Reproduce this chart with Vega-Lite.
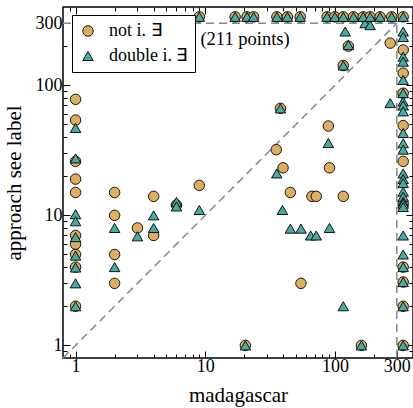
{
  "$schema": "https://vega.github.io/schema/vega-lite/v6.json",
  "width": 350,
  "height": 351,
  "autosize": "none",
  "padding": {"left": 63, "top": 7, "right": 0, "bottom": 50},
  "background": "white",
  "config": {
    "font": "Liberation Serif",
    "view": {"stroke": "black", "strokeWidth": 1.5},
    "axis": {
      "grid": false,
      "domain": false,
      "tickColor": "black",
      "tickWidth": 1,
      "labelColor": "black",
      "titleColor": "black",
      "labelFont": "Liberation Serif",
      "titleFont": "Liberation Serif",
      "labelFontSize": 18,
      "titleFontSize": 21,
      "titleFontWeight": "normal",
      "labelOverlap": false,
      "labelFlush": false
    }
  },
  "datasets": {
    "lines": [
      {"x": 0.8, "y": 0.8, "x2": 300, "y2": 300},
      {"x": 0.8, "y": 300, "x2": 300, "y2": 300},
      {"x": 300, "y": 0.8, "x2": 300, "y2": 300}
    ],
    "points": [
      {"x": 1, "y": 78, "s": "not i. ∃"},
      {"x": 1, "y": 54, "s": "not i. ∃"},
      {"x": 1, "y": 26, "s": "not i. ∃"},
      {"x": 1, "y": 19, "s": "not i. ∃"},
      {"x": 1, "y": 15, "s": "not i. ∃"},
      {"x": 1, "y": 7, "s": "not i. ∃"},
      {"x": 1, "y": 6, "s": "not i. ∃"},
      {"x": 1, "y": 5, "s": "not i. ∃"},
      {"x": 1, "y": 4, "s": "not i. ∃"},
      {"x": 1, "y": 2, "s": "not i. ∃"},
      {"x": 2, "y": 15, "s": "not i. ∃"},
      {"x": 2, "y": 10, "s": "not i. ∃"},
      {"x": 2, "y": 5, "s": "not i. ∃"},
      {"x": 2, "y": 3, "s": "not i. ∃"},
      {"x": 3, "y": 8, "s": "not i. ∃"},
      {"x": 4, "y": 14, "s": "not i. ∃"},
      {"x": 4, "y": 7, "s": "not i. ∃"},
      {"x": 6, "y": 12, "s": "not i. ∃"},
      {"x": 9, "y": 17, "s": "not i. ∃"},
      {"x": 20.4, "y": 1, "s": "not i. ∃"},
      {"x": 35.3, "y": 32, "s": "not i. ∃"},
      {"x": 39.8, "y": 23.2, "s": "not i. ∃"},
      {"x": 38, "y": 66.5, "s": "not i. ∃"},
      {"x": 90.8, "y": 23.2, "s": "not i. ∃"},
      {"x": 89, "y": 48.6, "s": "not i. ∃"},
      {"x": 45.3, "y": 15, "s": "not i. ∃"},
      {"x": 66.5, "y": 14, "s": "not i. ∃"},
      {"x": 71.8, "y": 14, "s": "not i. ∃"},
      {"x": 116, "y": 14, "s": "not i. ∃"},
      {"x": 54.7, "y": 3, "s": "not i. ∃"},
      {"x": 160, "y": 1, "s": "not i. ∃"},
      {"x": 127, "y": 200, "s": "not i. ∃"},
      {"x": 116, "y": 142, "s": "not i. ∃"},
      {"x": 267, "y": 211, "s": "not i. ∃"},
      {"x": 336, "y": 187, "s": "not i. ∃"},
      {"x": 336, "y": 124, "s": "not i. ∃"},
      {"x": 336, "y": 87, "s": "not i. ∃"},
      {"x": 336, "y": 49, "s": "not i. ∃"},
      {"x": 336, "y": 26, "s": "not i. ∃"},
      {"x": 336, "y": 12.3, "s": "not i. ∃"},
      {"x": 336, "y": 4, "s": "not i. ∃"},
      {"x": 336, "y": 3.07, "s": "not i. ∃"},
      {"x": 336, "y": 2, "s": "not i. ∃"},
      {"x": 336, "y": 1, "s": "not i. ∃"},
      {"x": 9, "y": 336, "s": "not i. ∃"},
      {"x": 17, "y": 336, "s": "not i. ∃"},
      {"x": 21, "y": 336, "s": "not i. ∃"},
      {"x": 23.6, "y": 336, "s": "not i. ∃"},
      {"x": 35.7, "y": 336, "s": "not i. ∃"},
      {"x": 43, "y": 336, "s": "not i. ∃"},
      {"x": 54, "y": 336, "s": "not i. ∃"},
      {"x": 87, "y": 336, "s": "not i. ∃"},
      {"x": 100, "y": 336, "s": "not i. ∃"},
      {"x": 116, "y": 336, "s": "not i. ∃"},
      {"x": 139, "y": 336, "s": "not i. ∃"},
      {"x": 165, "y": 336, "s": "not i. ∃"},
      {"x": 187, "y": 336, "s": "not i. ∃"},
      {"x": 223, "y": 336, "s": "not i. ∃"},
      {"x": 274, "y": 336, "s": "not i. ∃"},
      {"x": 336, "y": 336, "s": "not i. ∃"},
      {"x": 1, "y": 47, "s": "double i. ∃"},
      {"x": 1, "y": 27.4, "s": "double i. ∃"},
      {"x": 1, "y": 10.2, "s": "double i. ∃"},
      {"x": 1, "y": 9, "s": "double i. ∃"},
      {"x": 1, "y": 6.8, "s": "double i. ∃"},
      {"x": 1, "y": 4.9, "s": "double i. ∃"},
      {"x": 1, "y": 3.97, "s": "double i. ∃"},
      {"x": 1, "y": 3, "s": "double i. ∃"},
      {"x": 1, "y": 2, "s": "double i. ∃"},
      {"x": 2, "y": 8, "s": "double i. ∃"},
      {"x": 2, "y": 4, "s": "double i. ∃"},
      {"x": 3, "y": 6.9, "s": "double i. ∃"},
      {"x": 4, "y": 10, "s": "double i. ∃"},
      {"x": 4, "y": 8, "s": "double i. ∃"},
      {"x": 6, "y": 12.7, "s": "double i. ∃"},
      {"x": 6, "y": 11.7, "s": "double i. ∃"},
      {"x": 9, "y": 11, "s": "double i. ∃"},
      {"x": 20.4, "y": 1, "s": "double i. ∃"},
      {"x": 35.6, "y": 21, "s": "double i. ∃"},
      {"x": 38, "y": 66.5, "s": "double i. ∃"},
      {"x": 89, "y": 36, "s": "double i. ∃"},
      {"x": 39.4, "y": 11, "s": "double i. ∃"},
      {"x": 45.3, "y": 7.9, "s": "double i. ∃"},
      {"x": 54.7, "y": 7.9, "s": "double i. ∃"},
      {"x": 65, "y": 7, "s": "double i. ∃"},
      {"x": 71.8, "y": 7, "s": "double i. ∃"},
      {"x": 90.8, "y": 8, "s": "double i. ∃"},
      {"x": 116, "y": 2, "s": "double i. ∃"},
      {"x": 160, "y": 1, "s": "double i. ∃"},
      {"x": 120, "y": 259, "s": "double i. ∃"},
      {"x": 127, "y": 204, "s": "double i. ∃"},
      {"x": 116, "y": 142, "s": "double i. ∃"},
      {"x": 171, "y": 300, "s": "double i. ∃"},
      {"x": 187, "y": 290, "s": "double i. ∃"},
      {"x": 267, "y": 73, "s": "double i. ∃"},
      {"x": 336, "y": 259, "s": "double i. ∃"},
      {"x": 336, "y": 235, "s": "double i. ∃"},
      {"x": 336, "y": 166, "s": "double i. ∃"},
      {"x": 336, "y": 152, "s": "double i. ∃"},
      {"x": 336, "y": 110, "s": "double i. ∃"},
      {"x": 336, "y": 87, "s": "double i. ∃"},
      {"x": 336, "y": 75, "s": "double i. ∃"},
      {"x": 336, "y": 70, "s": "double i. ∃"},
      {"x": 336, "y": 63, "s": "double i. ∃"},
      {"x": 336, "y": 43, "s": "double i. ∃"},
      {"x": 336, "y": 35.8, "s": "double i. ∃"},
      {"x": 336, "y": 32, "s": "double i. ∃"},
      {"x": 336, "y": 21, "s": "double i. ∃"},
      {"x": 336, "y": 19, "s": "double i. ∃"},
      {"x": 336, "y": 17.7, "s": "double i. ∃"},
      {"x": 336, "y": 15.2, "s": "double i. ∃"},
      {"x": 336, "y": 13.9, "s": "double i. ∃"},
      {"x": 336, "y": 12.7, "s": "double i. ∃"},
      {"x": 336, "y": 12.3, "s": "double i. ∃"},
      {"x": 336, "y": 11.6, "s": "double i. ∃"},
      {"x": 336, "y": 7, "s": "double i. ∃"},
      {"x": 336, "y": 5, "s": "double i. ∃"},
      {"x": 336, "y": 4, "s": "double i. ∃"},
      {"x": 336, "y": 3.07, "s": "double i. ∃"},
      {"x": 336, "y": 2, "s": "double i. ∃"},
      {"x": 336, "y": 1, "s": "double i. ∃"},
      {"x": 9, "y": 336, "s": "double i. ∃"},
      {"x": 17, "y": 336, "s": "double i. ∃"},
      {"x": 21, "y": 336, "s": "double i. ∃"},
      {"x": 23.6, "y": 336, "s": "double i. ∃"},
      {"x": 35.7, "y": 336, "s": "double i. ∃"},
      {"x": 43, "y": 336, "s": "double i. ∃"},
      {"x": 54, "y": 336, "s": "double i. ∃"},
      {"x": 87, "y": 336, "s": "double i. ∃"},
      {"x": 100, "y": 336, "s": "double i. ∃"},
      {"x": 116, "y": 336, "s": "double i. ∃"},
      {"x": 139, "y": 336, "s": "double i. ∃"},
      {"x": 165, "y": 336, "s": "double i. ∃"},
      {"x": 187, "y": 336, "s": "double i. ∃"},
      {"x": 223, "y": 336, "s": "double i. ∃"},
      {"x": 274, "y": 336, "s": "double i. ∃"},
      {"x": 336, "y": 336, "s": "double i. ∃"}
    ],
    "note": [{"x": 9.18, "y": 227, "t": "(211 points)"}]
  },
  "layer": [
    {
      "data": {"name": "lines"},
      "mark": {"type": "rule", "strokeDash": [8, 5], "color": "#888888", "strokeWidth": 1.5},
      "encoding": {
        "x": {
          "field": "x", "type": "quantitative",
          "scale": {"type": "log", "domain": [0.8, 400], "nice": false},
          "axis": {
            "orient": "top", "title": null, "labels": false,
            "values": [0.9, 1, 2, 3, 4, 5, 6, 7, 8, 9, 10, 20, 30, 40, 50, 60, 70, 80, 90, 100, 200, 300],
            "tickSize": {"condition": {"test": "datum.value == 1 || datum.value == 10 || datum.value == 100 || datum.value == 300", "value": -7}, "value": -4}
          }
        },
        "y": {
          "field": "y", "type": "quantitative",
          "scale": {"type": "log", "domain": [0.8, 400], "nice": false},
          "axis": {
            "orient": "right", "title": null, "labels": false,
            "values": [0.9, 1, 2, 3, 4, 5, 6, 7, 8, 9, 10, 20, 30, 40, 50, 60, 70, 80, 90, 100, 200, 300],
            "tickSize": {"condition": {"test": "datum.value == 1 || datum.value == 10 || datum.value == 100 || datum.value == 300", "value": -7}, "value": -4}
          }
        },
        "x2": {"field": "x2"},
        "y2": {"field": "y2"}
      }
    },
    {
      "data": {"name": "points"},
      "mark": {"type": "point", "filled": true, "size": 110, "opacity": 1, "strokeWidth": 0.9},
      "encoding": {
        "x": {
          "field": "x", "type": "quantitative",
          "scale": {"type": "log", "domain": [0.8, 400], "nice": false},
          "axis": {
            "orient": "bottom", "title": "madagascar", "format": "d",
            "values": [0.9, 1, 2, 3, 4, 5, 6, 7, 8, 9, 10, 20, 30, 40, 50, 60, 70, 80, 90, 100, 200, 300],
            "labelExpr": "datum.value == 1 || datum.value == 10 || datum.value == 100 || datum.value == 300 ? datum.label : ''",
            "tickSize": {"condition": {"test": "datum.value == 1 || datum.value == 10 || datum.value == 100 || datum.value == 300", "value": -7}, "value": -4},
            "labelPadding": 6,
            "titlePadding": 6
          }
        },
        "y": {
          "field": "y", "type": "quantitative",
          "scale": {"type": "log", "domain": [0.8, 400], "nice": false},
          "axis": {
            "orient": "left", "title": "approach see label", "format": "d",
            "values": [0.9, 1, 2, 3, 4, 5, 6, 7, 8, 9, 10, 20, 30, 40, 50, 60, 70, 80, 90, 100, 200, 300],
            "labelExpr": "datum.value == 1 || datum.value == 10 || datum.value == 100 || datum.value == 300 ? datum.label : ''",
            "tickSize": {"condition": {"test": "datum.value == 1 || datum.value == 10 || datum.value == 100 || datum.value == 300", "value": -7}, "value": -4},
            "labelPadding": 8,
            "titlePadding": 11
          }
        },
        "fill": {
          "field": "s", "type": "nominal",
          "scale": {"domain": ["not i. ∃", "double i. ∃"], "range": ["#dbae63", "#4aaaa1"]},
          "legend": {
            "title": null, "orient": "none", "legendX": 9, "legendY": 8,
            "strokeColor": "black", "fillColor": "white", "padding": 7, "cornerRadius": 0,
            "labelFont": "Liberation Serif", "labelFontSize": 18, "labelColor": "black",
            "symbolSize": 110, "symbolStrokeWidth": 0.9, "symbolOpacity": 1,
            "rowPadding": 7, "labelOffset": 12
          }
        },
        "shape": {
          "field": "s", "type": "nominal",
          "scale": {"domain": ["not i. ∃", "double i. ∃"], "range": ["circle", "triangle-up"]},
          "legend": {
            "title": null, "orient": "none", "legendX": 9, "legendY": 8,
            "strokeColor": "black", "fillColor": "white", "padding": 7, "cornerRadius": 0,
            "labelFont": "Liberation Serif", "labelFontSize": 18, "labelColor": "black",
            "symbolSize": 110, "symbolStrokeWidth": 0.9, "symbolOpacity": 1,
            "rowPadding": 7, "labelOffset": 12
          }
        },
        "stroke": {
          "field": "s", "type": "nominal",
          "scale": {"domain": ["not i. ∃", "double i. ∃"], "range": ["black", "black"]},
          "legend": {
            "title": null, "orient": "none", "legendX": 9, "legendY": 8,
            "strokeColor": "black", "fillColor": "white", "padding": 7, "cornerRadius": 0,
            "labelFont": "Liberation Serif", "labelFontSize": 18, "labelColor": "black",
            "symbolSize": 110, "symbolStrokeWidth": 0.9, "symbolOpacity": 1,
            "rowPadding": 7, "labelOffset": 12
          }
        }
      }
    },
    {
      "data": {"name": "note"},
      "mark": {"type": "text", "align": "left", "baseline": "middle", "fontSize": 18.5, "font": "Liberation Serif", "color": "black"},
      "encoding": {
        "x": {"field": "x", "type": "quantitative", "scale": {"type": "log", "domain": [0.8, 400], "nice": false}, "axis": null},
        "y": {"field": "y", "type": "quantitative", "scale": {"type": "log", "domain": [0.8, 400], "nice": false}, "axis": null},
        "text": {"field": "t"}
      }
    }
  ],
  "resolve": {"axis": {"x": "independent", "y": "independent"}}
}
